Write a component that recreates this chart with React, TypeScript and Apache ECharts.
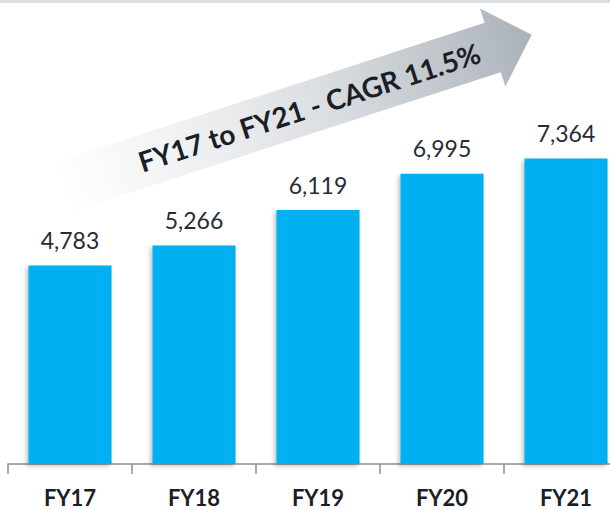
import React, { useEffect, useRef } from "react";
import * as echarts from "echarts";

const categories = ["FY17", "FY18", "FY19", "FY20", "FY21"];
const values = [4783, 5266, 6119, 6995, 7364];
const arrowText = "FY17 to FY21 - CAGR 11.5%";

export default function App() {
  const ref = useRef<HTMLDivElement>(null);
  useEffect(() => {
    if (!ref.current) return;
    const chart = echarts.init(ref.current, null, { renderer: "svg" });
    const rot = (18 * Math.PI) / 180;
    chart.setOption({
      animation: false,
      backgroundColor: "#ffffff",
      grid: { left: 8, width: 620, top: 49, bottom: 46, containLabel: false },
      xAxis: {
        type: "category",
        data: categories,
        axisLine: { show: true, lineStyle: { color: "#8c8c8c", width: 1.5 } },
        axisTick: { show: true, length: 10, lineStyle: { color: "#8c8c8c", width: 1.5 } },
        axisLabel: {
          margin: 22,
          fontFamily: "Lato",
          fontWeight: "bold",
          fontSize: 22,
          color: "#1b1e27",
        },
      },
      yAxis: { type: "value", min: 0, max: 10000, show: false, splitLine: { show: false } },
      series: [
        {
          type: "bar",
          data: values,
          barWidth: "67%",
          itemStyle: {
            color: "#00b0f0",
            shadowColor: "rgba(0,0,0,0.25)",
            shadowBlur: 4,
            shadowOffsetX: -2,
            shadowOffsetY: 2,
          },
          label: {
            show: true,
            position: "top",
            distance: 14,
            fontFamily: "Lato",
            fontSize: 23,
            color: "#262b35",
            formatter: (p: any) => p.value.toLocaleString("en-US"),
          },
        },
      ],
      graphic: [
        {
          type: "line",
          shape: { x1: 0, y1: 1.5, x2: 640, y2: 1.5 },
          style: { stroke: "#d9dee4", lineWidth: 3 },
          silent: true,
        },
        {
          type: "group",
          x: 60,
          y: 188,
          rotation: rot,
          children: [
            {
              type: "polygon",
              shape: {
                points: [
                  [0, -26],
                  [455, -26],
                  [455, -41],
                  [496, 0],
                  [455, 41],
                  [455, 26],
                  [0, 26],
                ],
              },
              style: {
                fill: new echarts.graphic.LinearGradient(0, 0, 1, 0, [
                  { offset: 0, color: "#ffffff" },
                  { offset: 0.25, color: "#f1f2f3" },
                  { offset: 0.55, color: "#dcdfe2" },
                  { offset: 0.85, color: "#bcc2c8" },
                  { offset: 1, color: "#a9b1b9" },
                ]),
              },
            },
            {
              type: "text",
              x: 262,
              y: 0,
              style: {
                text: arrowText,
                font: "bold 28px Lato",
                fill: "#1b1e27",
                align: "center",
                verticalAlign: "middle",
              },
            },
          ],
        },
      ],
    });
    return () => chart.dispose();
  }, []);
  return (
    <div
      ref={ref}
      style={{ position: "fixed", left: 0, top: 0, width: 640, height: 510 }}
    />
  );
}
